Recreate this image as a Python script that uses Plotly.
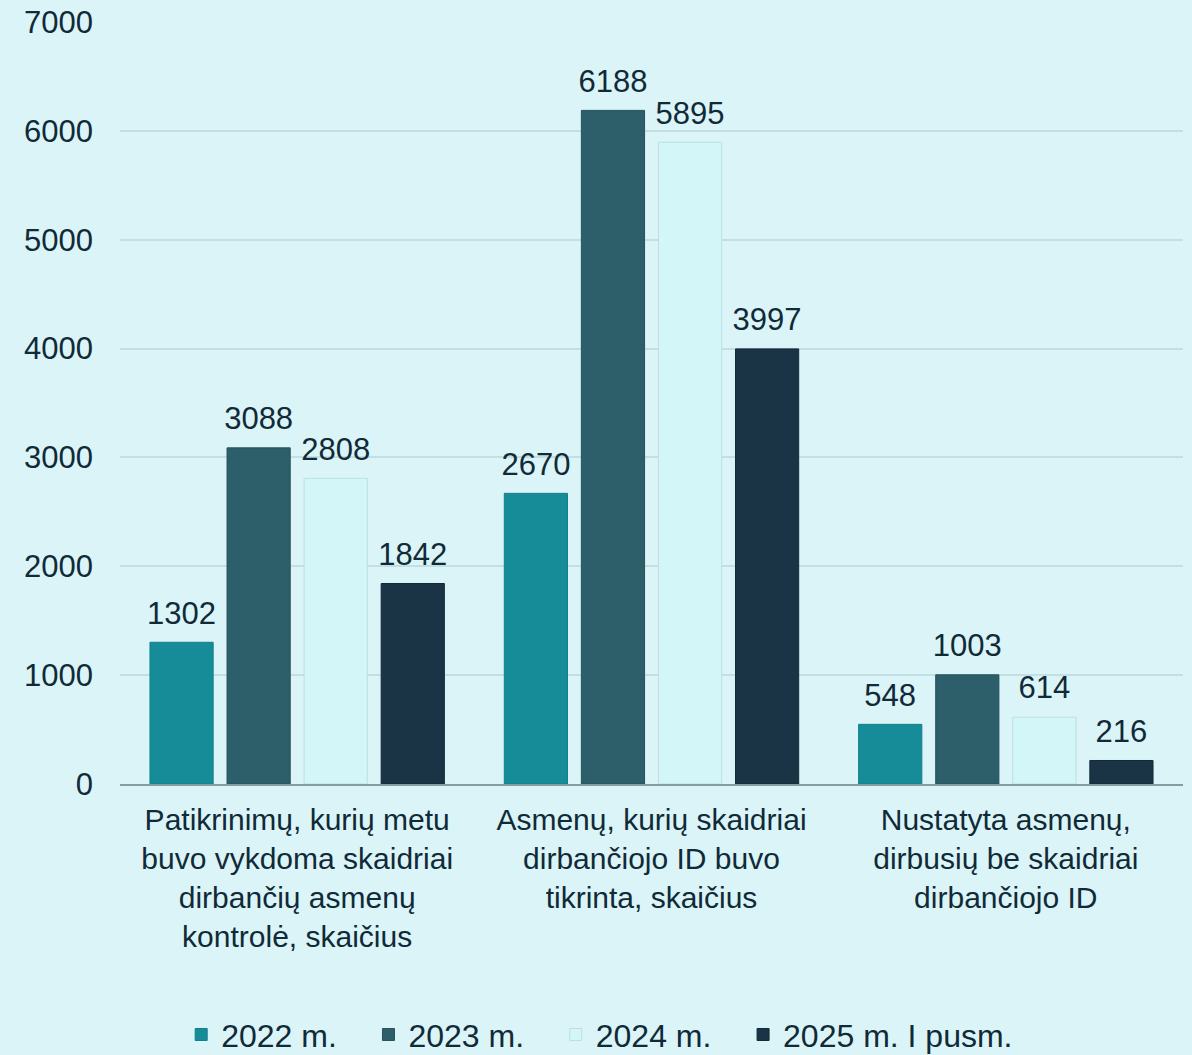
import plotly.graph_objects as go

categories = [
    "Patikrinimų, kurių metu<br>buvo vykdoma skaidriai<br>dirbančių asmenų<br>kontrolė, skaičius",
    "Asmenų, kurių skaidriai<br>dirbančiojo ID buvo<br>tikrinta, skaičius",
    "Nustatyta asmenų,<br>dirbusių be skaidriai<br>dirbančiojo ID",
]
series_names = ["2022 m.", "2023 m.", "2024 m.", "2025 m. I pusm."]
values_2022 = [1302, 2670, 548]
values_2023 = [3088, 6188, 1003]
values_2024 = [2808, 5895, 614]
values_2025 = [1842, 3997, 216]
tick_vals = [0, 1000, 2000, 3000, 4000, 5000, 6000, 7000]

series_values = [values_2022, values_2023, values_2024, values_2025]
colors = ["#178c99", "#2c5f69", "#d3f6f8", "#1a3445"]
line_colors = ["#137f8b", "#24535d", "#bcdfe3", "#122a39"]

FONT = "Liberation Sans, Arial, sans-serif"
TXT = "#102a38"
LABEL_LIFT = 80  # visual gap between bar top and its value label (axis units)
PAD = "\u00a0\u00a0\u00a0"

fig = go.Figure()
for i, (name, vals, c, lc) in enumerate(zip(series_names, series_values, colors, line_colors)):
    fig.add_trace(go.Bar(
        x=categories, y=vals, name=name + PAD,
        offsetgroup=str(i),
        marker=dict(color=c, line=dict(color=lc, width=1)),
    ))
    # transparent spacer bar on top of each bar that carries the value label
    fig.add_trace(go.Bar(
        x=categories, y=[LABEL_LIFT] * len(vals), base=vals,
        offsetgroup=str(i), showlegend=False, hoverinfo="skip",
        marker=dict(color="rgba(0,0,0,0)", line=dict(width=0)),
        text=[str(v) for v in vals], textposition="outside",
        constraintext="none",
        textfont=dict(size=31, color=TXT, family=FONT),
        cliponaxis=False,
    ))

fig.update_layout(
    width=1192, height=1055,
    margin=dict(l=120, r=9, t=22, b=271, autoexpand=False),
    paper_bgcolor="#dbf4f7", plot_bgcolor="#dbf4f7",
    font=dict(family=FONT, size=30, color=TXT),
    barmode="group", bargap=0.13, bargroupgap=0.18,
    showlegend=True,
    legend=dict(orientation="h", xref="container", yref="paper",
                x=0.152, xanchor="left", y=-0.329, yanchor="middle",
                font=dict(size=32, color=TXT, family=FONT),
                itemwidth=30, bgcolor="rgba(0,0,0,0)", tracegroupgap=0),
)
fig.update_yaxes(range=[0, 7000], tickvals=tick_vals, showgrid=True,
                 gridcolor="#c3dfe3", gridwidth=2, zeroline=False,
                 showline=False, ticks="", ticklabelstandoff=26,
                 automargin=False,
                 tickfont=dict(size=31, color=TXT, family=FONT))
fig.update_xaxes(showline=True, linecolor="#7f9ea5", linewidth=2, ticks="",
                 ticklabelstandoff=8, automargin=False,
                 tickfont=dict(size=30, color=TXT, family=FONT))

fig.write_html("out.html", config={"displayModeBar": False},
               post_script="document.body.style.margin='0';document.body.style.overflow='hidden';")
